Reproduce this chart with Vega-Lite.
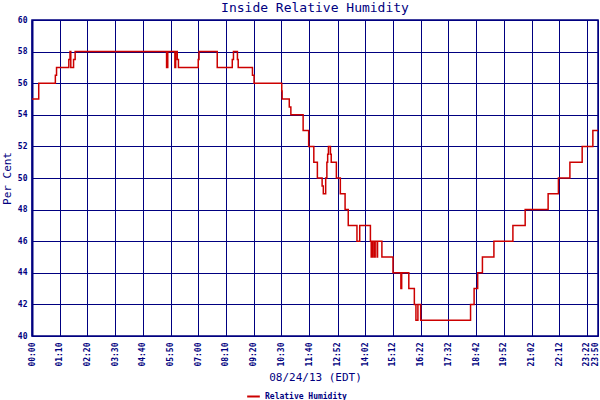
{
  "$schema": "https://vega.github.io/schema/vega-lite/v6.json",
  "width": 566,
  "height": 316,
  "autosize": {"type": "none"},
  "padding": {"left": 32, "top": 20, "right": 2, "bottom": 64},
  "background": "white",
  "title": {"text": "Inside Relative Humidity", "font": "DejaVu Sans Mono", "fontSize": 13, "fontWeight": "normal", "color": "#000080", "offset": 1, "anchor": "middle"},
  "config": {"view": {"stroke": "#000080", "strokeWidth": 1.5}},
  "data": {"values": [
    {"minute": 0, "rh": 55}, {"minute": 17, "rh": 56}, {"minute": 59, "rh": 56.5}, {"minute": 62, "rh": 57},
    {"minute": 93, "rh": 57.5}, {"minute": 96, "rh": 58}, {"minute": 98, "rh": 57}, {"minute": 105, "rh": 57.5},
    {"minute": 109, "rh": 58}, {"minute": 340, "rh": 57}, {"minute": 343, "rh": 58}, {"minute": 361, "rh": 57},
    {"minute": 363, "rh": 58}, {"minute": 367, "rh": 57.5}, {"minute": 370, "rh": 57}, {"minute": 420, "rh": 57.5},
    {"minute": 422, "rh": 58}, {"minute": 468, "rh": 57}, {"minute": 506, "rh": 57.5}, {"minute": 509, "rh": 58},
    {"minute": 519, "rh": 57.5}, {"minute": 521, "rh": 57}, {"minute": 557, "rh": 56.5}, {"minute": 561, "rh": 56},
    {"minute": 631, "rh": 55.5}, {"minute": 632, "rh": 55}, {"minute": 650, "rh": 54.5}, {"minute": 654, "rh": 54},
    {"minute": 685, "rh": 53}, {"minute": 699, "rh": 52}, {"minute": 712, "rh": 51}, {"minute": 721, "rh": 50},
    {"minute": 733, "rh": 49.5}, {"minute": 736, "rh": 49}, {"minute": 742, "rh": 50}, {"minute": 745, "rh": 51},
    {"minute": 747, "rh": 51.5}, {"minute": 749, "rh": 52}, {"minute": 754, "rh": 51.5}, {"minute": 756, "rh": 51},
    {"minute": 769, "rh": 50}, {"minute": 779, "rh": 49}, {"minute": 791, "rh": 48}, {"minute": 799, "rh": 47},
    {"minute": 821, "rh": 46}, {"minute": 828, "rh": 47}, {"minute": 855, "rh": 46}, {"minute": 857, "rh": 45},
    {"minute": 860, "rh": 46}, {"minute": 864, "rh": 45}, {"minute": 867, "rh": 46}, {"minute": 872, "rh": 45},
    {"minute": 873, "rh": 46}, {"minute": 884, "rh": 45}, {"minute": 912, "rh": 44}, {"minute": 932, "rh": 43},
    {"minute": 934, "rh": 44}, {"minute": 952, "rh": 43}, {"minute": 966, "rh": 42}, {"minute": 970, "rh": 41},
    {"minute": 975, "rh": 42}, {"minute": 982, "rh": 41}, {"minute": 1108, "rh": 42}, {"minute": 1117, "rh": 43},
    {"minute": 1126, "rh": 44}, {"minute": 1138, "rh": 45}, {"minute": 1167, "rh": 46}, {"minute": 1215, "rh": 47},
    {"minute": 1246, "rh": 48}, {"minute": 1304, "rh": 49}, {"minute": 1330, "rh": 50}, {"minute": 1359, "rh": 51},
    {"minute": 1390, "rh": 52}, {"minute": 1417, "rh": 53}, {"minute": 1430, "rh": 53}
  ]},
  "mark": {"type": "line", "interpolate": "step-after", "strokeWidth": 1.5},
  "encoding": {
    "x": {
      "field": "minute", "type": "quantitative",
      "scale": {"domain": [0, 1430], "nice": false, "zero": false},
      "axis": {
        "values": [0, 70, 140, 210, 280, 350, 420, 490, 560, 630, 700, 772, 842, 912, 982, 1052, 1122, 1192, 1262, 1332, 1402, 1430],
        "labelExpr": "(floor(datum.value/60) < 10 ? '0' : '') + floor(datum.value/60) + ':' + (datum.value % 60 < 10 ? '0' : '') + (datum.value % 60)",
        "labelAngle": -90, "labelAlign": "right", "labelBaseline": "middle",
        "labelOffset": {"condition": {"test": "datum.value == 1430", "value": -3}, "value": 0},
        "labelFont": "DejaVu Sans Mono", "labelFontSize": 8, "labelFontWeight": "bold", "labelColor": "#000080",
        "labelPadding": 6, "labelOverlap": false, "labelFlush": false, "labelBound": false,
        "ticks": false, "domain": false,
        "grid": true, "gridColor": "#000080", "gridOpacity": 1, "gridWidth": 1,
        "title": "08/24/13 (EDT)", "titleFont": "DejaVu Sans Mono", "titleFontSize": 11, "titleFontWeight": "normal", "titleColor": "#000080", "titlePadding": 5
      }
    },
    "y": {
      "field": "rh", "type": "quantitative",
      "scale": {"domain": [40, 60], "nice": false, "zero": false},
      "axis": {
        "values": [40, 42, 44, 46, 48, 50, 52, 54, 56, 58, 60],
        "labelFont": "DejaVu Sans Mono", "labelFontSize": 8, "labelFontWeight": "bold", "labelColor": "#000080",
        "labelPadding": 5, "ticks": false, "domain": true, "domainColor": "#000080", "domainWidth": 2,
        "grid": true, "gridColor": "#000080", "gridOpacity": 1, "gridWidth": 1,
        "title": "Per Cent", "titleFont": "DejaVu Sans Mono", "titleFontSize": 11, "titleFontWeight": "normal", "titleColor": "#000080", "titlePadding": 5
      }
    },
    "color": {
      "datum": "Relative Humidity",
      "scale": {"range": ["#cc0000"]},
      "legend": {
        "title": null, "orient": "none", "legendX": 214, "legendY": 369,
        "symbolType": "stroke", "symbolStrokeWidth": 2, "symbolSize": 160,
        "labelFont": "DejaVu Sans Mono", "labelFontSize": 8, "labelFontWeight": "bold", "labelColor": "#000080"
      }
    }
  }
}
